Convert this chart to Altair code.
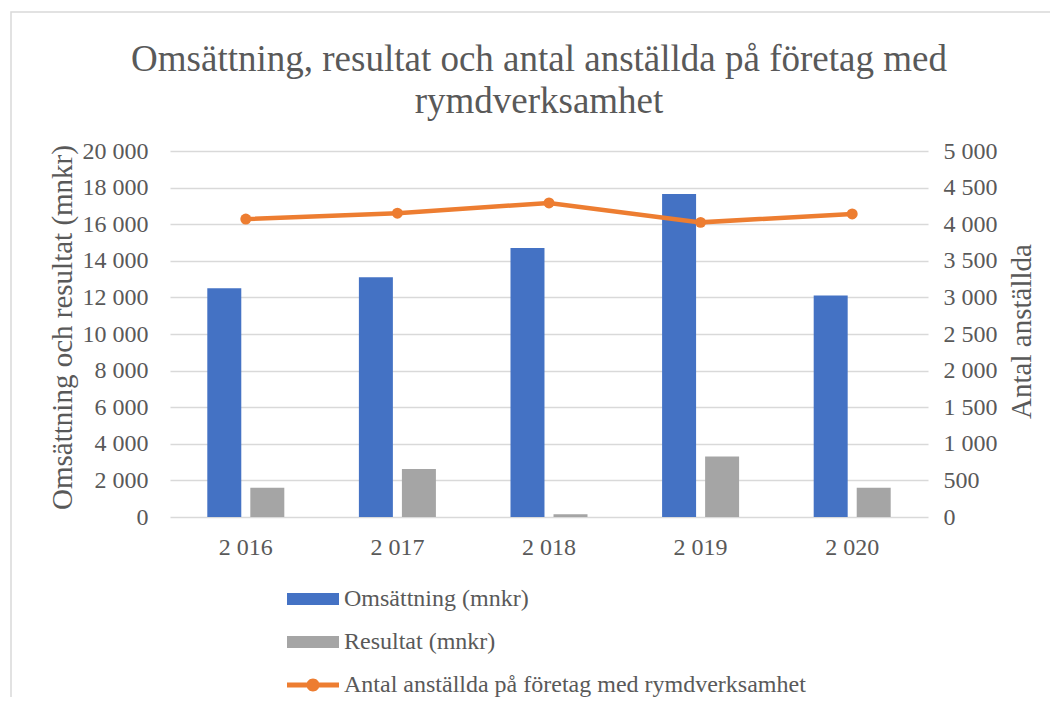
import altair as alt
import pandas as pd

years = ["2 016", "2 017", "2 018", "2 019", "2 020"]
omsattning = [12500, 13100, 14700, 17650, 12100]
resultat = [1600, 2620, 150, 3300, 1600]
anstallda = [4070, 4150, 4290, 4025, 4140]

s_oms = "Omsättning (mnkr)"
s_res = "Resultat (mnkr)"
s_ant = "Antal anställda på företag med rymdverksamhet"
series = [s_oms, s_res, s_ant]
colors = ["#4472C4", "#A5A5A5", "#ED7D31"]

FONT = "Liberation Serif"
TXT = "#595959"
GRID = "#D9D9D9"

bars_df = pd.DataFrame({
    "year": years * 2,
    "series": [s_oms] * 5 + [s_res] * 5,
    "value": omsattning + resultat,
})
line_df = pd.DataFrame({"year": years, "anstallda": anstallda, "series": s_ant})
legend_df = pd.DataFrame({"series": series})
frame_df = pd.DataFrame({"f": [0]})

xscale = alt.Scale(domain=years, paddingInner=0.492, paddingOuter=0.246)
color_scale = alt.Scale(domain=series, range=colors)
shape_scale = alt.Scale(
    domain=series,
    range=[
        "M-1,-0.6H4.2V0.6H-1Z",
        "M-1,-0.6H4.2V0.6H-1Z",
        "M-1,-0.25H4.2V0.25H-1Z M2.25,0A0.65,0.65 0 1 1 0.95,0A0.65,0.65 0 1 1 2.25,0Z",
    ],
)

leg = dict(title=None, orient="none", legendX=115, legendY=436,
           direction="vertical", symbolSize=400, labelOffset=35,
           rowPadding=19, labelFontSize=24, labelFont=FONT,
           labelColor=TXT, symbolOpacity=1, padding=0, labelLimit=800)

# outer chart frame (decoration)
frame = alt.Chart(frame_df).mark_rect(fill=None, stroke="#D9D9D9", strokeWidth=1.5).encode(
    x=alt.value(-159), x2=alt.value(1000), y=alt.value(-139), y2=alt.value(700),
)

bars = alt.Chart(bars_df).mark_bar().encode(
    x=alt.X("year:N", scale=xscale, sort=years,
            axis=alt.Axis(title=None, labelAngle=0, labelPadding=18, ticks=False,
                          domain=False, grid=False, labelFontSize=24)),
    xOffset=alt.XOffset("series:N", scale=alt.Scale(domain=[s_oms, s_res], paddingInner=0.21, paddingOuter=0)),
    y=alt.Y("value:Q", scale=alt.Scale(domain=[0, 20000]),
            axis=alt.Axis(title="Omsättning och resultat (mnkr)", values=list(range(0, 20001, 2000)),
                          format=",d", labelPadding=22, ticks=False, domain=False,
                          grid=True, titleX=-108, titleY=176, titleAngle=270,
                          titleAlign="center", titleBaseline="middle", titleFontSize=29)),
    color=alt.Color("series:N", scale=color_scale, legend=alt.Legend(**leg)),
)

line = alt.Chart(line_df).mark_line(
    color="#ED7D31", strokeWidth=4.5,
    point=alt.OverlayMarkDef(filled=True, color="#ED7D31", size=120, opacity=1),
).encode(
    x=alt.X("year:N", scale=xscale, sort=years),
    y=alt.Y("anstallda:Q", scale=alt.Scale(domain=[0, 5000]),
            axis=alt.Axis(title="Antal anställda", orient="right", values=list(range(0, 5001, 500)),
                          format=",d", labelPadding=15, ticks=False, domain=False,
                          grid=False, titleAngle=270, titleX=93, titleY=180,
                          titleAlign="center", titleBaseline="middle", titleFontSize=29)),
)

legend_layer = alt.Chart(legend_df).mark_point(filled=True).encode(
    x=alt.value(0),
    y=alt.value(0),
    size=alt.value(0),
    color=alt.Color("series:N", scale=color_scale, legend=alt.Legend(**leg)),
    shape=alt.Shape("series:N", scale=shape_scale, legend=alt.Legend(**leg)),
)

chart = alt.layer(frame, bars, line, legend_layer).resolve_scale(y="independent").properties(
    width=758,
    height=366,
    padding={"left": 162, "top": 143, "right": 122, "bottom": 180},
    autosize=alt.AutoSizeParams(type="none"),
    title=alt.TitleParams(
        text=["Omsättning, resultat och antal anställda på företag med", "rymdverksamhet"],
        font=FONT, fontSize=37, fontWeight="normal", color=TXT, anchor="middle",
        lineHeight=42, offset=-110, dx=-10, frame="group",
    ),
).configure(
    locale=alt.Locale(number=alt.NumberLocale(decimal=",", thousands=" ", grouping=[3], currency=["", " kr"])),
).configure_view(stroke=None).configure_axis(
    labelFont=FONT, titleFont=FONT, labelFontSize=24, titleFontSize=29, labelColor=TXT,
    titleColor=TXT, titleFontWeight="normal", gridColor=GRID, gridWidth=1.5,
)

chart.save("out.html", embed_options={"renderer": "svg", "actions": False})
